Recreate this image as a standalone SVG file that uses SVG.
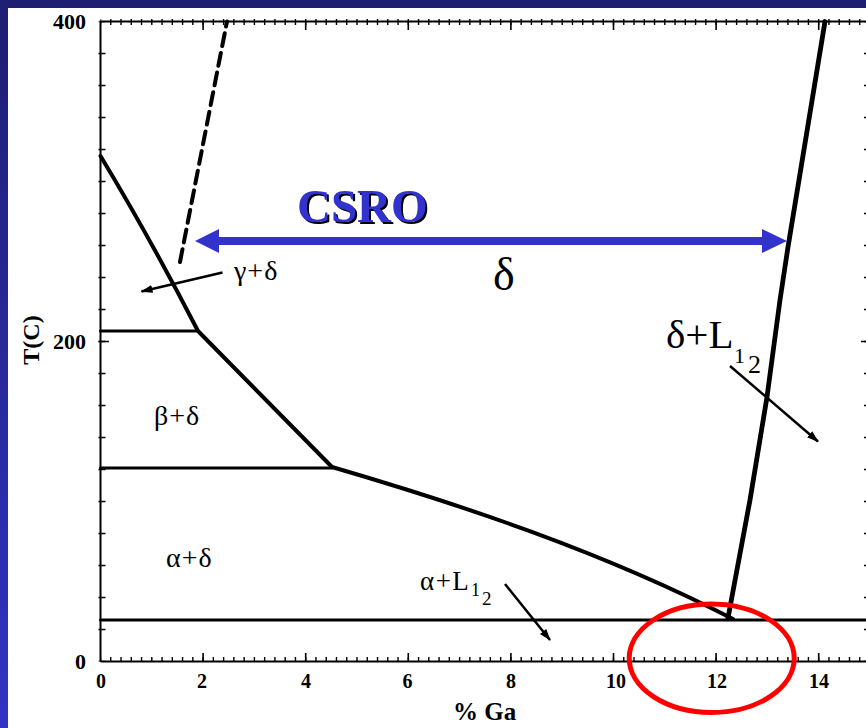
<svg xmlns="http://www.w3.org/2000/svg" width="866" height="728" viewBox="0 0 866 728">
<defs>
<linearGradient id="lb" x1="0" y1="0" x2="0" y2="1"><stop offset="0" stop-color="#1e1e72"/><stop offset="1" stop-color="#3333c4"/></linearGradient>
<filter id="shadow" x="-10%" y="-10%" width="130%" height="130%"><feOffset in="SourceAlpha" dx="2" dy="2" result="o"/><feMerge><feMergeNode in="o"/><feMergeNode in="SourceGraphic"/></feMerge></filter>
<marker id="ah" viewBox="0 0 12 10" refX="11" refY="5" markerWidth="12" markerHeight="10" markerUnits="userSpaceOnUse" orient="auto"><path d="M0,1 L12,5 L0,9 z" fill="#000"/></marker>
<style>
.ax{stroke:#000;fill:none}
.tk{font-family:"Liberation Serif",serif;font-weight:bold;font-size:20px;fill:#000;text-anchor:middle}
.yl{font-family:"Liberation Serif",serif;font-weight:bold;font-size:22px;fill:#000;text-anchor:end}
.ph{font-family:"Liberation Serif",serif;font-size:28px;fill:#000;letter-spacing:1px}
.bd{stroke:#000;fill:none;stroke-linejoin:round;stroke-linecap:round}
.ar{stroke:#000;stroke-width:2.5;fill:none;marker-end:url(#ah)}
</style>
</defs>
<rect width="866" height="728" fill="#fff"/>
<rect x="0" y="0" width="866" height="8" fill="#1e1e72"/>
<rect x="0" y="0" width="8" height="728" fill="url(#lb)"/>

<g id="axes" class="ax">
<path d="M100.5,661.5 V21.5 H866 M100.5,661.5 H866" stroke-width="2"/>
<line x1="100.5" y1="659.5" x2="866" y2="659.5" stroke-width="5" stroke-dasharray="1.4 8.86" stroke-dashoffset="0.7"/>
<line x1="100.5" y1="22" x2="866" y2="22" stroke-width="6" stroke-dasharray="1.4 8.86" stroke-dashoffset="0.7"/>
<line x1="102" y1="661.5" x2="102" y2="21.5" stroke-width="7" stroke-dasharray="1.4 30.6" stroke-dashoffset="0.7"/>
<line x1="865.5" y1="661.5" x2="865.5" y2="21.5" stroke-width="3" stroke-dasharray="1.4 30.6" stroke-dashoffset="0.7"/>
<path stroke-width="1.6" d="M203.1,653V661.5M305.7,653V661.5M408.3,653V661.5M510.9,653V661.5M613.5,653V661.5M716.1,653V661.5M818.7,653V661.5 M203.1,21.5V30M305.7,21.5V30M408.3,21.5V30M510.9,21.5V30M613.5,21.5V30M716.1,21.5V30M818.7,21.5V30 M98.5,341.5H109 M861,341.5H866"/>
</g>

<g id="tick-labels">
<text class="tk" x="101" y="688">0</text>
<text class="tk" x="202" y="688">2</text>
<text class="tk" x="306" y="688">4</text>
<text class="tk" x="407.5" y="688">6</text>
<text class="tk" x="511" y="688">8</text>
<text class="tk" x="616" y="688">10</text>
<text class="tk" x="717" y="688">12</text>
<text class="tk" x="819" y="688">14</text>
<text class="yl" x="86" y="669">0</text>
<text class="yl" x="86" y="349">200</text>
<text class="yl" x="86" y="28.5">400</text>
</g>

<g id="axis-titles">
<text transform="translate(39,340) rotate(-90)" style="font-family:'Liberation Serif',serif;font-weight:bold;font-size:24px;text-anchor:middle">T(C)</text>
<text x="453" y="720" style="font-family:'Liberation Serif',serif;font-weight:bold;font-size:25px">% Ga</text>
</g>

<g id="boundaries">
<path class="bd" stroke-width="4" d="M100.5,156 Q150,238 198,331 L332,467 C462,505 603,552 733,619"/>
<polyline class="bd" stroke-width="4.8" points="825,21.5 788,247 780,300 767,397 750,500 728,618"/>
<line class="bd" stroke-width="4" stroke-linecap="butt" x1="180" y1="262" x2="227" y2="21.5" stroke-dasharray="13 7"/>
<line class="bd" stroke-width="3" stroke-linecap="butt" x1="100.5" y1="331" x2="198" y2="331"/>
<line class="bd" stroke-width="3" stroke-linecap="butt" x1="100.5" y1="468" x2="332" y2="468"/>
<line class="bd" stroke-width="3" stroke-linecap="butt" x1="100.5" y1="620" x2="866" y2="620"/>
</g>

<g id="connectors">
<line class="ar" x1="222.5" y1="272.5" x2="141.5" y2="291.5"/>
<line class="ar" x1="730" y1="366" x2="818" y2="441.5"/>
<line class="ar" x1="505" y1="584" x2="550" y2="640"/>
</g>

<g id="csro">
<line x1="215" y1="241" x2="765" y2="241" stroke="#3333cc" stroke-width="8"/>
<polygon points="762,229 787,241 762,253" fill="#3333cc"/>
<polygon points="195,241 219,229 219,253" fill="#3333cc"/>
<text x="297" y="222" filter="url(#shadow)" style="font-family:'Liberation Serif',serif;font-weight:bold;font-size:47px;fill:#3333cc">CSRO</text>
</g>

<g id="labels">
<text class="ph" x="493" y="290" style="font-size:46px;letter-spacing:0">δ</text>
<text class="ph" x="234" y="280">γ+δ</text>
<text class="ph" x="154" y="425">β+δ</text>
<text class="ph" x="166" y="567">α+δ</text>
<text class="ph" x="420" y="590" style="font-size:27px;letter-spacing:1.5px">α+L<tspan x="471" y="596" style="font-size:18px;letter-spacing:0">1</tspan><tspan x="482" y="605" style="font-size:19px;letter-spacing:0">2</tspan></text>
<text class="ph" x="666" y="348" style="font-size:41px;letter-spacing:0">δ+L<tspan x="734" y="363" style="font-size:22px">1</tspan><tspan x="748" y="373" style="font-size:26px">2</tspan></text>
</g>

<ellipse id="highlight" cx="711.7" cy="658.3" rx="82.5" ry="54.2" fill="none" stroke="#f00" stroke-width="5"/>
</svg>
